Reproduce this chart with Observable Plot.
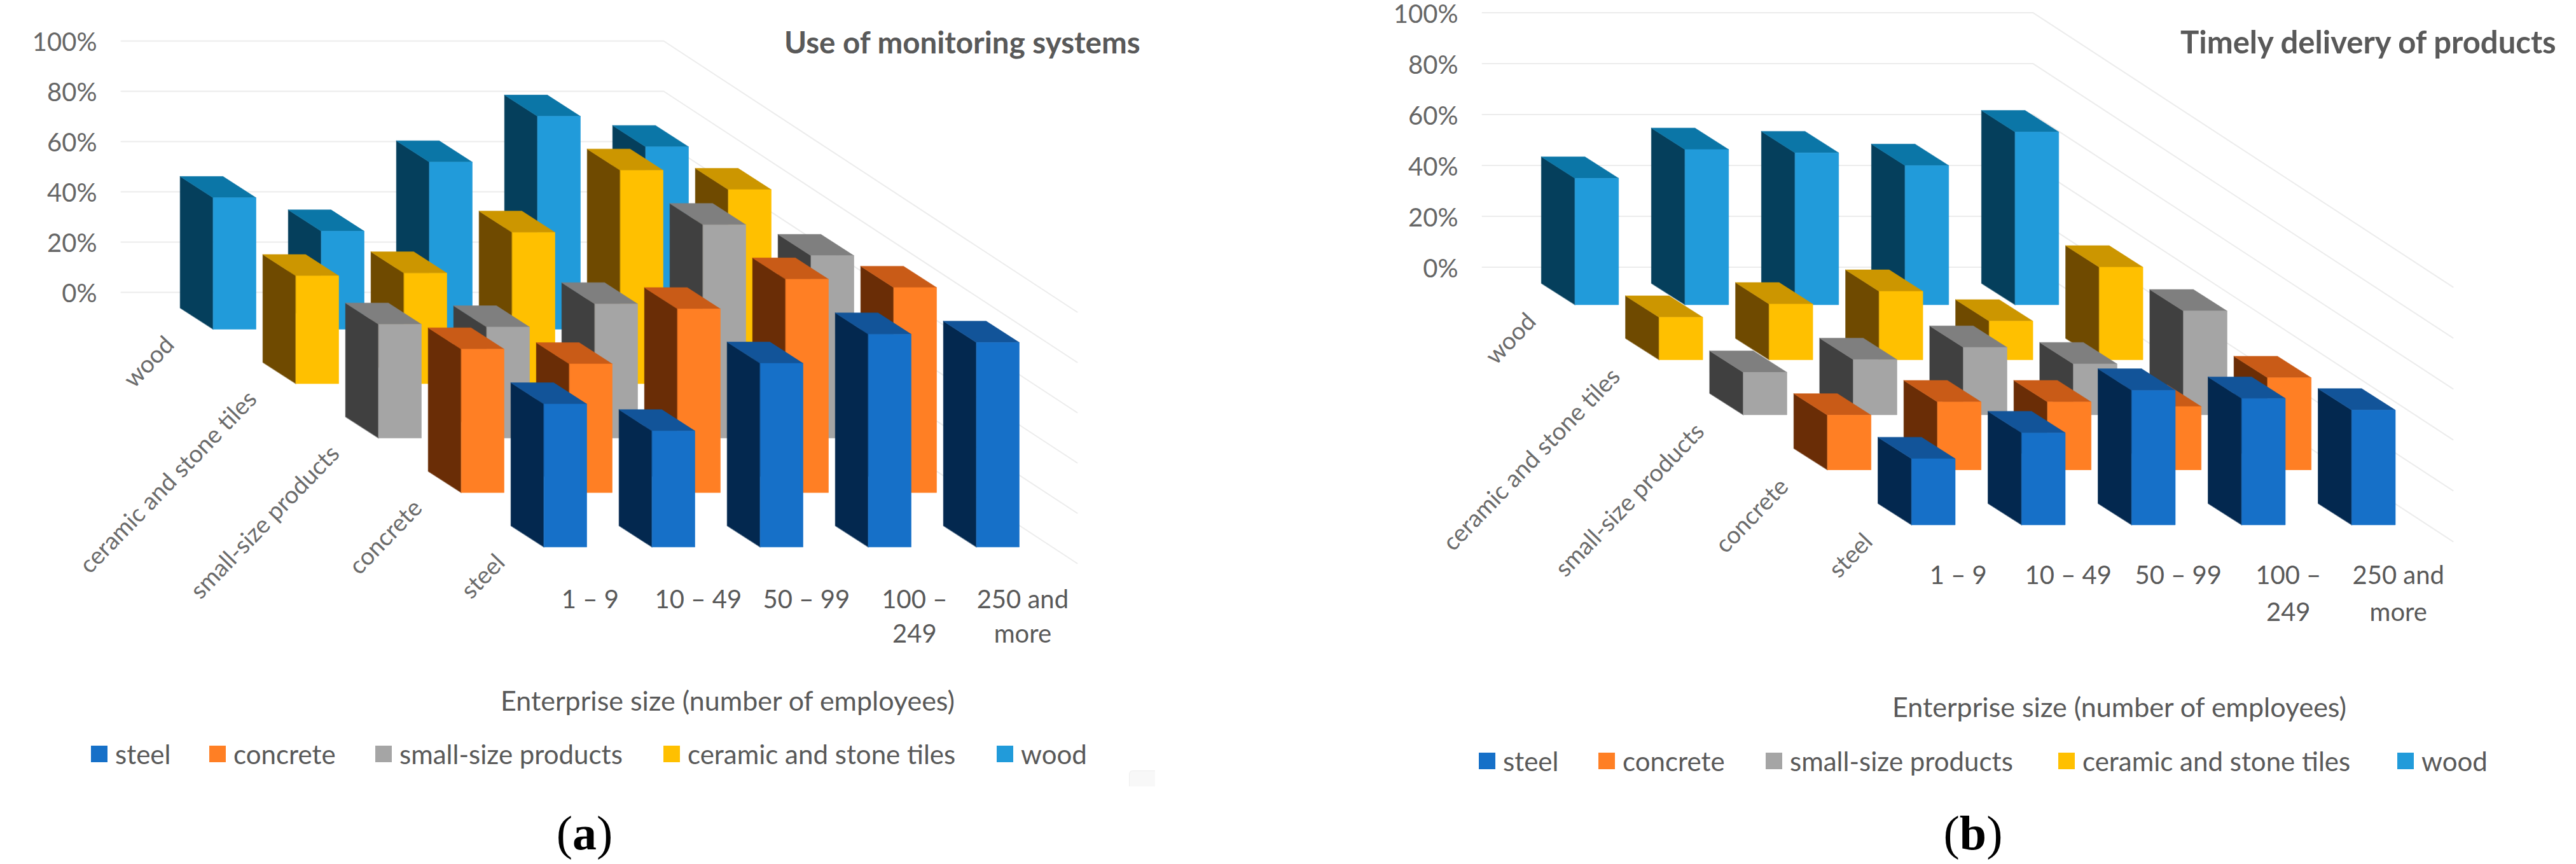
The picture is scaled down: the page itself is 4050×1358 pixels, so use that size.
<!DOCTYPE html>
<html>
<head>
<meta charset="utf-8">
<script src="https://cdn.jsdelivr.net/npm/d3@7"></script>
<script src="https://cdn.jsdelivr.net/npm/@observablehq/plot@0.6"></script>
<style>
html,body{margin:0;padding:0;background:#fff;overflow:hidden}
#page{position:relative;width:4050px;height:1358px;font-family:Lato,sans-serif}
.panel{position:absolute;top:0;width:2025px;height:1358px}
.panel svg{position:absolute;left:0;top:0;background:transparent}
.t{position:absolute;white-space:nowrap;color:#595959;transform:translateY(-50%)}
.sw{position:absolute;width:26px;height:26px}
.cap{position:absolute;font-family:"Liberation Serif",serif;color:#000;font-size:76px;transform:translate(-50%,-50%);white-space:nowrap}
.cap b{font-weight:700}
</style>
</head>
<body>
<div id="page"></div>
<script>
const sizes = ["1 – 9", "10 – 49", "50 – 99", "100 –\n249", "250 and\nmore"];
const materials = ["wood", "ceramic and stone tiles", "small-size products", "concrete", "steel"];
const legendOrder = ["steel", "concrete", "small-size products", "ceramic and stone tiles", "wood"];
const yTicks = [0, 20, 40, 60, 80, 100];
const xAxisLabel = "Enterprise size (number of employees)";

const monitoringWood    = [52.3, 39.0, 66.5, 84.7, 72.6];
const monitoringCeramic = [42.9, 44.0, 60.2, 84.9, 77.2];
const monitoringSmall   = [45.3, 44.2, 53.4, 84.9, 72.6];
const monitoringConcrete= [57.1, 51.2, 73.1, 84.9, 81.6];
const monitoringSteel   = [56.9, 46.2, 73.1, 84.7, 81.4];

const deliveryWood    = [49.7, 61.0, 59.7, 54.7, 67.9];
const deliveryCeramic = [16.7, 21.9, 26.9, 15.2, 36.4];
const deliverySmall   = [16.7, 21.7, 26.5, 20.0, 40.8];
const deliveryConcrete= [21.5, 26.7, 26.7, 24.9, 36.2];
const deliverySteel   = [26.0, 36.2, 52.9, 49.7, 45.1];

const faceColors = {
  "wood": {front:"#219bda", side:"#053f5c", top:"#0b76a7"},
  "ceramic and stone tiles": {front:"#ffc000", side:"#6f4a00", top:"#cc9600"},
  "small-size products": {front:"#a5a5a5", side:"#404040", top:"#7f7f7f"},
  "concrete": {front:"#ff7f24", side:"#6a2d06", top:"#c95b17"},
  "steel": {front:"#1670c8", side:"#03284f", top:"#125499"}
};

const W = 2025, H = 1070;

function panel(cfg, rows) {
  const g = cfg.geom;
  const pct = px => px / g.pxPerPct;
  const bx = (c, r) => g.frontX - (4 - c) * g.colDx - (4 - r) * g.rowDx;
  const by = r => (g.y0 - (g.frontY - (4 - r) * g.rowDy)) / g.pxPerPct;

  const faces = [];
  rows.forEach((vals, r) => vals.forEach((v, c) => {
    const x = bx(c, r), b = by(r), t = b + v;
    const xr = x + g.barW, dx = g.depthX, dz = pct(g.depthY);
    const col = faceColors[materials[r]];
    const add = (kind, pts) => pts.forEach(([px, py]) => faces.push({id:`${r}-${c}-${kind}`, px, py, color:col[kind]}));
    add("side", [[x, b], [x, t], [x - dx, t + dz], [x - dx, b + dz]]);
    add("top", [[x, t], [xr, t], [xr - dx, t + dz], [x - dx, t + dz]]);
    add("front", [[x, b], [xr, b], [xr, t], [x, t]]);
  }));

  const grid = yTicks.flatMap(v => [
    {v, px: g.gridX, py: v},
    {v, px: g.cornerX, py: v},
    {v, px: g.endX, py: v - pct(g.gridDy)}
  ]);
  const catLabels = materials.map((m, r) => ({m, px: bx(0, r) + g.catDx, py: by(r) - pct(g.catDy)}));
  const sizeLabels = sizes.map((s, c) => ({s, px: bx(c, 4) + g.barW / 2 + g.sizeDx, py: by(4) - pct(g.sizeDy)}));

  const fig = Plot.plot({
    width: W, height: H,
    marginLeft: g.gridX, marginRight: 0, marginTop: 0, marginBottom: 0,
    x: {domain: [0, W], range: [0, W], axis: null},
    y: {domain: [g.y0 / g.pxPerPct, (g.y0 - H) / g.pxPerPct], range: [0, H], axis: null},
    color: {type: "identity"},
    style: {fontFamily: "Lato, sans-serif", background: "transparent", overflow: "visible"},
    marks: [
      Plot.line(grid, {x: "px", y: "py", z: "v", stroke: "#ececec", strokeWidth: 2}),
      Plot.axisY(yTicks, {anchor: "left", tickSize: 0, tickPadding: g.tickPad, tickFormat: d => d + "%", fontSize: 40, fill: "#666", dy: 3, label: null}),
      Plot.line(faces, {x: "px", y: "py", z: "id", fill: "color", stroke: "color", strokeWidth: 0.6, curve: "linear-closed"}),
      Plot.text(catLabels, {x: "px", y: "py", text: "m", rotate: -46, textAnchor: "end", fontSize: 38, fill: "#6b6b6b"}),
      Plot.text(sizeLabels, {x: "px", y: "py", text: "s", fontSize: 40, fill: "#595959", lineHeight: g.sizeLine, lineAnchor: "top"})
    ]
  });

  const div = document.createElement("div");
  div.className = "panel";
  div.style.left = cfg.left + "px";
  div.appendChild(fig);

  const title = document.createElement("div");
  title.className = "t";
  title.textContent = cfg.title;
  Object.assign(title.style, {left: cfg.titleX + "px", top: "65px", fontWeight: 700, fontSize: cfg.titleSize + "px"});
  div.appendChild(title);

  const xl = document.createElement("div");
  xl.className = "t";
  xl.textContent = xAxisLabel;
  Object.assign(xl.style, {left: cfg.xlabelX + "px", top: cfg.xlabelY + "px", fontSize: "43px"});
  div.appendChild(xl);

  legendOrder.forEach((m, i) => {
    const sw = document.createElement("div");
    sw.className = "sw";
    Object.assign(sw.style, {left: cfg.swatchX[i] + "px", top: (cfg.legendY - 13) + "px", background: faceColors[m].front});
    div.appendChild(sw);
    const tx = document.createElement("div");
    tx.className = "t";
    tx.textContent = m;
    Object.assign(tx.style, {left: (cfg.swatchX[i] + 38) + "px", top: cfg.legendY + "px", fontSize: "42px"});
    div.appendChild(tx);
  });

  const cap = document.createElement("div");
  cap.className = "cap";
  cap.innerHTML = `(<b>${cfg.letter}</b>)`;
  Object.assign(cap.style, {left: cfg.capX + "px", top: "1309px"});
  div.appendChild(cap);

  if (cfg.artifact) {
    const a = document.createElement("div");
    Object.assign(a.style, {position: "absolute", left: "1775px", top: "1211px", width: "40px", height: "24px", background: "#f8f8f8", borderTop: "1px solid #eee", borderLeft: "1px solid #eee", borderRadius: "6px 0 0 0"});
    div.appendChild(a);
  }
  document.getElementById("page").appendChild(div);
}

panel({
  left: 0, title: "Use of monitoring systems", titleX: 1233, titleSize: 47.5, letter: "a", capX: 919,
  xlabelX: 787, xlabelY: 1100, legendY: 1185, swatchX: [143, 329, 590, 1043, 1567], artifact: true,
  geom: {pxPerPct: 3.95, y0: 459, frontX: 1534.7, frontY: 859.3, colDx: 170, rowDx: 130, rowDy: 85.6, barW: 67.3,
         depthX: 52, depthY: 33.5, gridX: 190, cornerX: 1043, endX: 1693, gridDy: 426, tickPad: 38,
         catDx: -68, catDy: 18, sizeDx: 39, sizeDy: 58, sizeLine: 1.35}
}, [monitoringWood, monitoringCeramic, monitoringSmall, monitoringConcrete, monitoringSteel]);

panel({
  left: 2025, title: "Timely delivery of products", titleX: 1403, titleSize: 49, letter: "b", capX: 1077,
  xlabelX: 950, xlabelY: 1110, legendY: 1196, swatchX: [300, 488, 751, 1211, 1744],
  geom: {pxPerPct: 4, y0: 419.6, frontX: 1672, frontY: 824.5, colDx: 173, rowDx: 132.3, rowDy: 86.5, barW: 68.5,
         depthX: 53, depthY: 33.8, gridX: 305, cornerX: 1171, endX: 1831, gridDy: 431, tickPad: 38,
         catDx: -68, catDy: 20, sizeDx: 39, sizeDy: 52, sizeLine: 1.45}
}, [deliveryWood, deliveryCeramic, deliverySmall, deliveryConcrete, deliverySteel]);
</script>
</body>
</html>
